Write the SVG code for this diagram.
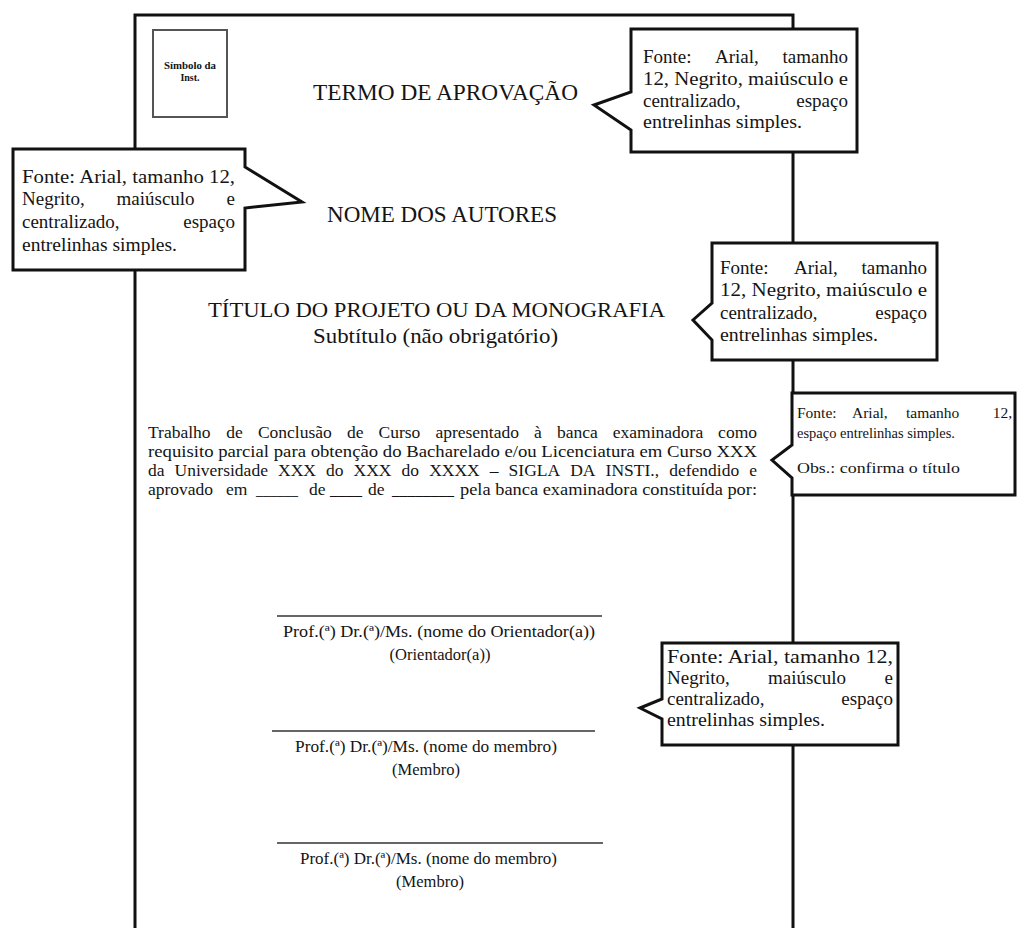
<svg xmlns="http://www.w3.org/2000/svg" width="1017" height="928" viewBox="0 0 1017 928">
<style>
.t{font-family:"Liberation Serif","Times New Roman",serif;fill:#141414}
.c{font-size:19px}
.o{font-size:15.5px}
.p{font-size:17.5px}
.h{font-size:23px}
.s{font-size:16.5px}
.e{text-anchor:end}
.m{text-anchor:middle}
.box{fill:#fff;stroke:#111;stroke-width:3;stroke-linejoin:miter}
.sig{stroke:#333;stroke-width:1.6}
</style>
<rect width="1017" height="928" fill="#fff"/>
<g id="page">
<path d="M135,928 V15 H793 V928" fill="none" stroke="#111" stroke-width="3"/>
</g>
<g id="symbol">
<rect x="153" y="30" width="74" height="87" fill="#fff" stroke="#555" stroke-width="2"/>
<text class="t m" x="190" y="69" font-size="10" font-weight="bold" fill="#444" textLength="52" lengthAdjust="spacingAndGlyphs">Símbolo da</text>
<text class="t m" x="190" y="81" font-size="10" font-weight="bold" fill="#444">Inst.</text>
</g>
<g id="title-termo">
<text class="t h" x="313" y="100" textLength="265" lengthAdjust="spacingAndGlyphs">TERMO DE APROVAÇÃO</text>
</g>
<g id="title-autores">
<text class="t h" x="327" y="222" textLength="230" lengthAdjust="spacingAndGlyphs">NOME DOS AUTORES</text>
</g>
<g id="title-projeto">
<text class="t" font-size="22" x="208" y="317" textLength="457" lengthAdjust="spacingAndGlyphs">TÍTULO DO PROJETO OU DA MONOGRAFIA</text>
<text class="t" font-size="22" x="313" y="343" textLength="245" lengthAdjust="spacingAndGlyphs">Subtítulo (não obrigatório)</text>
</g>
<g id="paragraph">
<text class="t p" y="438"><tspan x="148">Trabalho</tspan><tspan x="226.3">de</tspan><tspan x="257.9">Conclusão</tspan><tspan x="346.9">de</tspan><tspan x="378.5">Curso</tspan><tspan x="435.4">apresentado</tspan><tspan x="534.1">à</tspan><tspan x="556.9">banca</tspan><tspan x="612.8">examinadora</tspan></text>
<text class="t p e" x="757" y="438">como</text>
<text class="t p" x="148" y="457" textLength="609" lengthAdjust="spacingAndGlyphs">requisito parcial para obtenção do Bacharelado e/ou Licenciatura em Curso XXX</text>
<text class="t p" y="476"><tspan x="148">da</tspan><tspan x="174.6">Universidade</tspan><tspan x="278">XXX</tspan><tspan x="326">do</tspan><tspan x="353.6">XXX</tspan><tspan x="401.6">do</tspan><tspan x="429.2">XXXX</tspan><tspan x="489.8">–</tspan><tspan x="508.6">SIGLA</tspan><tspan x="570.2">DA</tspan><tspan x="605.6">INSTI.,</tspan><tspan x="669.2">defendido</tspan></text>
<text class="t p e" x="757" y="476">e</text>
<text class="t p" y="495"><tspan x="148">aprovado</tspan><tspan x="226">em</tspan></text>
<text class="t p" x="256" y="495" textLength="42" lengthAdjust="spacingAndGlyphs">______</text>
<text class="t p" x="309" y="495">de</text>
<text class="t p" x="330" y="495" textLength="32" lengthAdjust="spacingAndGlyphs">____</text>
<text class="t p" x="368" y="495">de</text>
<text class="t p" x="392" y="495" textLength="62" lengthAdjust="spacingAndGlyphs">________</text>
<text class="t p" x="460" y="495" textLength="297" lengthAdjust="spacingAndGlyphs">pela banca examinadora constituída por:</text>
</g>
<g id="signature-orientador">
<line class="sig" x1="277" y1="616" x2="602" y2="616"/>
<text class="t s" x="283" y="637" textLength="312" lengthAdjust="spacingAndGlyphs">Prof.(ª) Dr.(ª)/Ms. (nome do Orientador(a))</text>
<text class="t s m" x="440" y="660">(Orientador(a))</text>
</g>
<g id="signature-membro-1">
<line class="sig" x1="272" y1="731" x2="595" y2="731"/>
<text class="t s" x="295" y="752" textLength="262" lengthAdjust="spacingAndGlyphs">Prof.(ª) Dr.(ª)/Ms. (nome do membro)</text>
<text class="t s m" x="426" y="775">(Membro)</text>
</g>
<g id="signature-membro-2">
<line class="sig" x1="277" y1="843" x2="603" y2="843"/>
<text class="t s" x="300" y="864" textLength="257" lengthAdjust="spacingAndGlyphs">Prof.(ª) Dr.(ª)/Ms. (nome do membro)</text>
<text class="t s m" x="430" y="887">(Membro)</text>
</g>
<g id="callout-termo">
<path class="box" d="M631,29 H857 V152 H631 V130 L594,105 L631,92 Z"/>
<text class="t c" y="63"><tspan x="643">Fonte:</tspan><tspan x="715">Arial,</tspan></text>
<text class="t c e" x="848" y="63">tamanho</text>
<text class="t c" x="643" y="85" textLength="205" lengthAdjust="spacingAndGlyphs">12, Negrito, maiúsculo e</text>
<text class="t c" x="643" y="107">centralizado,</text>
<text class="t c e" x="848" y="107">espaço</text>
<text class="t c" x="643" y="128" textLength="159" lengthAdjust="spacingAndGlyphs">entrelinhas simples.</text>
</g>
<g id="callout-autores">
<path class="box" d="M13,149 H245 V167 L302,202 L245,208 V270 H13 Z"/>
<text class="t c" x="22" y="183" textLength="213" lengthAdjust="spacingAndGlyphs">Fonte: Arial, tamanho 12,</text>
<text class="t c" y="205"><tspan x="22">Negrito,</tspan><tspan x="116.5">maiúsculo</tspan></text>
<text class="t c e" x="235" y="205">e</text>
<text class="t c" x="22" y="228">centralizado,</text>
<text class="t c e" x="235" y="228">espaço</text>
<text class="t c" x="22" y="251" textLength="155" lengthAdjust="spacingAndGlyphs">entrelinhas simples.</text>
</g>
<g id="callout-titulo">
<path class="box" d="M712,243 H937 V360 H712 V340 L693,320 L712,303 Z"/>
<text class="t c" y="274"><tspan x="720">Fonte:</tspan><tspan x="794">Arial,</tspan></text>
<text class="t c e" x="927" y="274">tamanho</text>
<text class="t c" x="720" y="296" textLength="207" lengthAdjust="spacingAndGlyphs">12, Negrito, maiúsculo e</text>
<text class="t c" x="720" y="319">centralizado,</text>
<text class="t c e" x="927" y="319">espaço</text>
<text class="t c" x="720" y="341" textLength="158" lengthAdjust="spacingAndGlyphs">entrelinhas simples.</text>
</g>
<g id="callout-texto">
<path class="box" d="M792,393 H1015 V495 H792 V478 L772,460 L792,445 Z"/>
<text class="t o" y="418"><tspan x="797">Fonte:</tspan><tspan x="852">Arial,</tspan><tspan x="906">tamanho</tspan></text>
<text class="t o e" x="1012" y="418">12,</text>
<text class="t o" x="797" y="438" textLength="158" lengthAdjust="spacingAndGlyphs">espaço entrelinhas simples.</text>
<text class="t o" x="797" y="473" textLength="163" lengthAdjust="spacingAndGlyphs">Obs.: confirma o título</text>
</g>
<g id="callout-banca">
<path class="box" d="M662,643 H898 V745 H662 V719 L640,708 L662,699 Z"/>
<text class="t c" x="667" y="663" textLength="226" lengthAdjust="spacingAndGlyphs">Fonte: Arial, tamanho 12,</text>
<text class="t c" y="684"><tspan x="667">Negrito,</tspan><tspan x="768">maiúsculo</tspan></text>
<text class="t c e" x="893" y="684">e</text>
<text class="t c" x="667" y="705">centralizado,</text>
<text class="t c e" x="893" y="705">espaço</text>
<text class="t c" x="667" y="726" textLength="158" lengthAdjust="spacingAndGlyphs">entrelinhas simples.</text>
</g>
</svg>
